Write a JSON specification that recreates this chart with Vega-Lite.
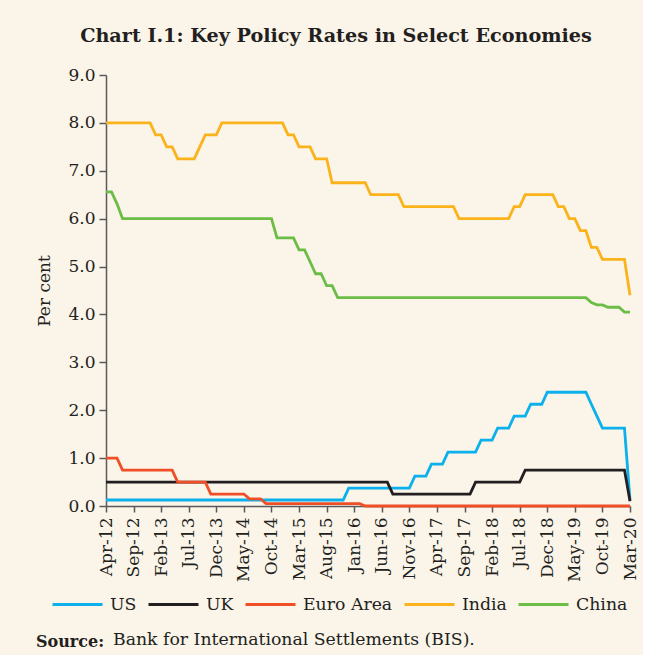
{
  "$schema": "https://vega.github.io/schema/vega-lite/v6.json",
  "background": "#faf4e9",
  "padding": {"left": 35, "top": 26, "right": 5, "bottom": 5},
  "title": {"text": "Bank for International Settlements (BIS).", "orient": "bottom", "anchor": "start", "frame": "bounds", "font": "DejaVu Serif", "fontSize": 17.3, "fontWeight": "normal", "color": "#231f20", "baseline": "alphabetic", "offset": 0, "dx": 77, "dy": -5},
  "vconcat": [
    {
      "title": {"text": "Source:", "orient": "bottom", "anchor": "start", "frame": "bounds", "font": "DejaVu Serif", "fontSize": 16, "fontWeight": "bold", "color": "#231f20", "baseline": "alphabetic", "offset": 65},
      "vconcat": [
        {
          "title": {"text": "Chart I.1: Key Policy Rates in Select Economies", "orient": "top", "anchor": "middle", "frame": "bounds", "dx": -1, "font": "DejaVu Serif", "fontSize": 19.2, "fontWeight": "bold", "color": "#231f20", "offset": 20},
          "width": 524,
          "height": 431,
          "data": {"values": [
            {"m": "Apr-12", "US": 0.125, "UK": 0.5, "Euro Area": 1, "India": 8, "China": 6.56},
            {"m": "May-12", "US": 0.125, "UK": 0.5, "Euro Area": 1, "India": 8, "China": 6.56},
            {"m": "Jun-12", "US": 0.125, "UK": 0.5, "Euro Area": 1, "India": 8, "China": 6.31},
            {"m": "Jul-12", "US": 0.125, "UK": 0.5, "Euro Area": 0.75, "India": 8, "China": 6},
            {"m": "Aug-12", "US": 0.125, "UK": 0.5, "Euro Area": 0.75, "India": 8, "China": 6},
            {"m": "Sep-12", "US": 0.125, "UK": 0.5, "Euro Area": 0.75, "India": 8, "China": 6},
            {"m": "Oct-12", "US": 0.125, "UK": 0.5, "Euro Area": 0.75, "India": 8, "China": 6},
            {"m": "Nov-12", "US": 0.125, "UK": 0.5, "Euro Area": 0.75, "India": 8, "China": 6},
            {"m": "Dec-12", "US": 0.125, "UK": 0.5, "Euro Area": 0.75, "India": 8, "China": 6},
            {"m": "Jan-13", "US": 0.125, "UK": 0.5, "Euro Area": 0.75, "India": 7.75, "China": 6},
            {"m": "Feb-13", "US": 0.125, "UK": 0.5, "Euro Area": 0.75, "India": 7.75, "China": 6},
            {"m": "Mar-13", "US": 0.125, "UK": 0.5, "Euro Area": 0.75, "India": 7.5, "China": 6},
            {"m": "Apr-13", "US": 0.125, "UK": 0.5, "Euro Area": 0.75, "India": 7.5, "China": 6},
            {"m": "May-13", "US": 0.125, "UK": 0.5, "Euro Area": 0.5, "India": 7.25, "China": 6},
            {"m": "Jun-13", "US": 0.125, "UK": 0.5, "Euro Area": 0.5, "India": 7.25, "China": 6},
            {"m": "Jul-13", "US": 0.125, "UK": 0.5, "Euro Area": 0.5, "India": 7.25, "China": 6},
            {"m": "Aug-13", "US": 0.125, "UK": 0.5, "Euro Area": 0.5, "India": 7.25, "China": 6},
            {"m": "Sep-13", "US": 0.125, "UK": 0.5, "Euro Area": 0.5, "India": 7.5, "China": 6},
            {"m": "Oct-13", "US": 0.125, "UK": 0.5, "Euro Area": 0.5, "India": 7.75, "China": 6},
            {"m": "Nov-13", "US": 0.125, "UK": 0.5, "Euro Area": 0.25, "India": 7.75, "China": 6},
            {"m": "Dec-13", "US": 0.125, "UK": 0.5, "Euro Area": 0.25, "India": 7.75, "China": 6},
            {"m": "Jan-14", "US": 0.125, "UK": 0.5, "Euro Area": 0.25, "India": 8, "China": 6},
            {"m": "Feb-14", "US": 0.125, "UK": 0.5, "Euro Area": 0.25, "India": 8, "China": 6},
            {"m": "Mar-14", "US": 0.125, "UK": 0.5, "Euro Area": 0.25, "India": 8, "China": 6},
            {"m": "Apr-14", "US": 0.125, "UK": 0.5, "Euro Area": 0.25, "India": 8, "China": 6},
            {"m": "May-14", "US": 0.125, "UK": 0.5, "Euro Area": 0.25, "India": 8, "China": 6},
            {"m": "Jun-14", "US": 0.125, "UK": 0.5, "Euro Area": 0.15, "India": 8, "China": 6},
            {"m": "Jul-14", "US": 0.125, "UK": 0.5, "Euro Area": 0.15, "India": 8, "China": 6},
            {"m": "Aug-14", "US": 0.125, "UK": 0.5, "Euro Area": 0.15, "India": 8, "China": 6},
            {"m": "Sep-14", "US": 0.125, "UK": 0.5, "Euro Area": 0.05, "India": 8, "China": 6},
            {"m": "Oct-14", "US": 0.125, "UK": 0.5, "Euro Area": 0.05, "India": 8, "China": 6},
            {"m": "Nov-14", "US": 0.125, "UK": 0.5, "Euro Area": 0.05, "India": 8, "China": 5.6},
            {"m": "Dec-14", "US": 0.125, "UK": 0.5, "Euro Area": 0.05, "India": 8, "China": 5.6},
            {"m": "Jan-15", "US": 0.125, "UK": 0.5, "Euro Area": 0.05, "India": 7.75, "China": 5.6},
            {"m": "Feb-15", "US": 0.125, "UK": 0.5, "Euro Area": 0.05, "India": 7.75, "China": 5.6},
            {"m": "Mar-15", "US": 0.125, "UK": 0.5, "Euro Area": 0.05, "India": 7.5, "China": 5.35},
            {"m": "Apr-15", "US": 0.125, "UK": 0.5, "Euro Area": 0.05, "India": 7.5, "China": 5.35},
            {"m": "May-15", "US": 0.125, "UK": 0.5, "Euro Area": 0.05, "India": 7.5, "China": 5.1},
            {"m": "Jun-15", "US": 0.125, "UK": 0.5, "Euro Area": 0.05, "India": 7.25, "China": 4.85},
            {"m": "Jul-15", "US": 0.125, "UK": 0.5, "Euro Area": 0.05, "India": 7.25, "China": 4.85},
            {"m": "Aug-15", "US": 0.125, "UK": 0.5, "Euro Area": 0.05, "India": 7.25, "China": 4.6},
            {"m": "Sep-15", "US": 0.125, "UK": 0.5, "Euro Area": 0.05, "India": 6.75, "China": 4.6},
            {"m": "Oct-15", "US": 0.125, "UK": 0.5, "Euro Area": 0.05, "India": 6.75, "China": 4.35},
            {"m": "Nov-15", "US": 0.125, "UK": 0.5, "Euro Area": 0.05, "India": 6.75, "China": 4.35},
            {"m": "Dec-15", "US": 0.375, "UK": 0.5, "Euro Area": 0.05, "India": 6.75, "China": 4.35},
            {"m": "Jan-16", "US": 0.375, "UK": 0.5, "Euro Area": 0.05, "India": 6.75, "China": 4.35},
            {"m": "Feb-16", "US": 0.375, "UK": 0.5, "Euro Area": 0.05, "India": 6.75, "China": 4.35},
            {"m": "Mar-16", "US": 0.375, "UK": 0.5, "Euro Area": 0, "India": 6.75, "China": 4.35},
            {"m": "Apr-16", "US": 0.375, "UK": 0.5, "Euro Area": 0, "India": 6.5, "China": 4.35},
            {"m": "May-16", "US": 0.375, "UK": 0.5, "Euro Area": 0, "India": 6.5, "China": 4.35},
            {"m": "Jun-16", "US": 0.375, "UK": 0.5, "Euro Area": 0, "India": 6.5, "China": 4.35},
            {"m": "Jul-16", "US": 0.375, "UK": 0.5, "Euro Area": 0, "India": 6.5, "China": 4.35},
            {"m": "Aug-16", "US": 0.375, "UK": 0.25, "Euro Area": 0, "India": 6.5, "China": 4.35},
            {"m": "Sep-16", "US": 0.375, "UK": 0.25, "Euro Area": 0, "India": 6.5, "China": 4.35},
            {"m": "Oct-16", "US": 0.375, "UK": 0.25, "Euro Area": 0, "India": 6.25, "China": 4.35},
            {"m": "Nov-16", "US": 0.375, "UK": 0.25, "Euro Area": 0, "India": 6.25, "China": 4.35},
            {"m": "Dec-16", "US": 0.625, "UK": 0.25, "Euro Area": 0, "India": 6.25, "China": 4.35},
            {"m": "Jan-17", "US": 0.625, "UK": 0.25, "Euro Area": 0, "India": 6.25, "China": 4.35},
            {"m": "Feb-17", "US": 0.625, "UK": 0.25, "Euro Area": 0, "India": 6.25, "China": 4.35},
            {"m": "Mar-17", "US": 0.875, "UK": 0.25, "Euro Area": 0, "India": 6.25, "China": 4.35},
            {"m": "Apr-17", "US": 0.875, "UK": 0.25, "Euro Area": 0, "India": 6.25, "China": 4.35},
            {"m": "May-17", "US": 0.875, "UK": 0.25, "Euro Area": 0, "India": 6.25, "China": 4.35},
            {"m": "Jun-17", "US": 1.125, "UK": 0.25, "Euro Area": 0, "India": 6.25, "China": 4.35},
            {"m": "Jul-17", "US": 1.125, "UK": 0.25, "Euro Area": 0, "India": 6.25, "China": 4.35},
            {"m": "Aug-17", "US": 1.125, "UK": 0.25, "Euro Area": 0, "India": 6, "China": 4.35},
            {"m": "Sep-17", "US": 1.125, "UK": 0.25, "Euro Area": 0, "India": 6, "China": 4.35},
            {"m": "Oct-17", "US": 1.125, "UK": 0.25, "Euro Area": 0, "India": 6, "China": 4.35},
            {"m": "Nov-17", "US": 1.125, "UK": 0.5, "Euro Area": 0, "India": 6, "China": 4.35},
            {"m": "Dec-17", "US": 1.375, "UK": 0.5, "Euro Area": 0, "India": 6, "China": 4.35},
            {"m": "Jan-18", "US": 1.375, "UK": 0.5, "Euro Area": 0, "India": 6, "China": 4.35},
            {"m": "Feb-18", "US": 1.375, "UK": 0.5, "Euro Area": 0, "India": 6, "China": 4.35},
            {"m": "Mar-18", "US": 1.625, "UK": 0.5, "Euro Area": 0, "India": 6, "China": 4.35},
            {"m": "Apr-18", "US": 1.625, "UK": 0.5, "Euro Area": 0, "India": 6, "China": 4.35},
            {"m": "May-18", "US": 1.625, "UK": 0.5, "Euro Area": 0, "India": 6, "China": 4.35},
            {"m": "Jun-18", "US": 1.875, "UK": 0.5, "Euro Area": 0, "India": 6.25, "China": 4.35},
            {"m": "Jul-18", "US": 1.875, "UK": 0.5, "Euro Area": 0, "India": 6.25, "China": 4.35},
            {"m": "Aug-18", "US": 1.875, "UK": 0.75, "Euro Area": 0, "India": 6.5, "China": 4.35},
            {"m": "Sep-18", "US": 2.125, "UK": 0.75, "Euro Area": 0, "India": 6.5, "China": 4.35},
            {"m": "Oct-18", "US": 2.125, "UK": 0.75, "Euro Area": 0, "India": 6.5, "China": 4.35},
            {"m": "Nov-18", "US": 2.125, "UK": 0.75, "Euro Area": 0, "India": 6.5, "China": 4.35},
            {"m": "Dec-18", "US": 2.375, "UK": 0.75, "Euro Area": 0, "India": 6.5, "China": 4.35},
            {"m": "Jan-19", "US": 2.375, "UK": 0.75, "Euro Area": 0, "India": 6.5, "China": 4.35},
            {"m": "Feb-19", "US": 2.375, "UK": 0.75, "Euro Area": 0, "India": 6.25, "China": 4.35},
            {"m": "Mar-19", "US": 2.375, "UK": 0.75, "Euro Area": 0, "India": 6.25, "China": 4.35},
            {"m": "Apr-19", "US": 2.375, "UK": 0.75, "Euro Area": 0, "India": 6, "China": 4.35},
            {"m": "May-19", "US": 2.375, "UK": 0.75, "Euro Area": 0, "India": 6, "China": 4.35},
            {"m": "Jun-19", "US": 2.375, "UK": 0.75, "Euro Area": 0, "India": 5.75, "China": 4.35},
            {"m": "Jul-19", "US": 2.375, "UK": 0.75, "Euro Area": 0, "India": 5.75, "China": 4.35},
            {"m": "Aug-19", "US": 2.125, "UK": 0.75, "Euro Area": 0, "India": 5.4, "China": 4.25},
            {"m": "Sep-19", "US": 1.875, "UK": 0.75, "Euro Area": 0, "India": 5.4, "China": 4.2},
            {"m": "Oct-19", "US": 1.625, "UK": 0.75, "Euro Area": 0, "India": 5.15, "China": 4.2},
            {"m": "Nov-19", "US": 1.625, "UK": 0.75, "Euro Area": 0, "India": 5.15, "China": 4.15},
            {"m": "Dec-19", "US": 1.625, "UK": 0.75, "Euro Area": 0, "India": 5.15, "China": 4.15},
            {"m": "Jan-20", "US": 1.625, "UK": 0.75, "Euro Area": 0, "India": 5.15, "China": 4.15},
            {"m": "Feb-20", "US": 1.625, "UK": 0.75, "Euro Area": 0, "India": 5.15, "China": 4.05},
            {"m": "Mar-20", "US": 0.125, "UK": 0.1, "Euro Area": 0, "India": 4.4, "China": 4.05}
          ]},
          "transform": [{"fold": ["US", "UK", "Euro Area", "India", "China"], "as": ["series", "value"]}],
          "mark": {"type": "line", "strokeWidth": 2.8, "strokeJoin": "miter"},
          "encoding": {
            "x": {
              "field": "m", "type": "ordinal", "sort": null,
              "scale": {"type": "point", "padding": 0},
              "axis": {
                "title": null,
                "values": ["Apr-12", "Sep-12", "Feb-13", "Jul-13", "Dec-13", "May-14", "Oct-14", "Mar-15", "Aug-15", "Jan-16", "Jun-16", "Nov-16", "Apr-17", "Sep-17", "Feb-18", "Jul-18", "Dec-18", "May-19", "Oct-19", "Mar-20"],
                "labelAngle": -90, "tickSize": 6, "labelPadding": 5, "labelOverlap": false
              }
            },
            "y": {
              "field": "value", "type": "quantitative",
              "scale": {"domain": [0, 9], "nice": false, "zero": true},
              "axis": {"title": "Per cent", "values": [0, 1, 2, 3, 4, 5, 6, 7, 8, 9], "format": ".1f", "tickSize": 7, "labelPadding": 4, "titlePadding": 14}
            },
            "color": {
              "field": "series", "type": "nominal",
              "scale": {"domain": ["US", "UK", "Euro Area", "India", "China"], "range": ["#0cb0ec", "#231f20", "#f04e26", "#fbb31b", "#6cbd45"]},
              "legend": {"title": null, "orient": "none", "direction": "horizontal", "legendX": -55, "legendY": 503, "symbolType": "stroke", "symbolSize": 2500, "symbolStrokeWidth": 3, "labelFont": "DejaVu Serif", "labelFontSize": 17.3, "labelColor": "#231f20", "labelOffset": 6, "columnPadding": 5}
            }
          }
        }
      ]
    }
  ],
  "config": {
    "view": {"stroke": null},
    "axis": {"domainColor": "#58595b", "domainWidth": 1.5, "tickColor": "#58595b", "tickWidth": 1.5, "labelColor": "#231f20", "labelFont": "DejaVu Serif", "labelFontSize": 17, "grid": false, "titleFont": "DejaVu Serif", "titleFontWeight": "normal", "titleFontSize": 17, "titleColor": "#231f20"}
  }
}
